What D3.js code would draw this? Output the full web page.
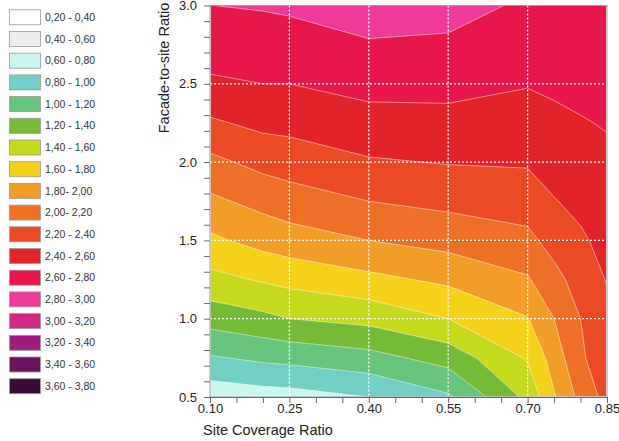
<!DOCTYPE html>
<html>
<head>
<meta charset="utf-8">
<script src="https://cdn.jsdelivr.net/npm/d3@7"></script>
<style>
  body { margin: 0; background: #fff; }
  svg { display: block; font-family: "Liberation Sans", Arial, sans-serif; }
</style>
</head>
<body>
<script>
// Grid columns (site coverage) and rows (facade-to-site)
const coverage = [0.10, 0.20, 0.25, 0.40, 0.55, 0.70, 0.75, 0.80, 0.85];
const facade = [0.50, 0.75, 1.00, 1.25, 1.50, 1.75, 2.00, 2.25, 2.50, 2.75, 3.00];

// values, one array per row (bottom to top)
const fsr050 = [0.67, 0.71, 0.72, 0.80, 0.97, 1.45, 1.78, 2.06, 2.27];
const fsr075 = [0.98, 1.04, 1.06, 1.13, 1.28, 1.62, 1.89, 2.17, 2.32];
const fsr100 = [1.28, 1.35, 1.40, 1.46, 1.60, 1.79, 2.00, 2.20, 2.36];
const fsr125 = [1.54, 1.62, 1.66, 1.75, 1.84, 1.98, 2.14, 2.28, 2.41];
const fsr150 = [1.76, 1.87, 1.91, 2.00, 2.07, 2.15, 2.27, 2.37, 2.46];
const fsr175 = [1.96, 2.06, 2.11, 2.20, 2.25, 2.29, 2.39, 2.45, 2.51];
const fsr200 = [2.15, 2.26, 2.29, 2.38, 2.41, 2.42, 2.48, 2.52, 2.57];
const fsr225 = [2.37, 2.45, 2.46, 2.53, 2.54, 2.52, 2.56, 2.59, 2.61];
const fsr250 = [2.57, 2.60, 2.60, 2.66, 2.66, 2.61, 2.63, 2.64, 2.64];
const fsr275 = [2.69, 2.71, 2.72, 2.78, 2.77, 2.69, 2.69, 2.68, 2.67];
const fsr300 = [2.799, 2.815, 2.83, 2.91, 2.87, 2.77, 2.74, 2.72, 2.70];
const rows = [fsr050, fsr075, fsr100, fsr125, fsr150, fsr175, fsr200, fsr225, fsr250, fsr275, fsr300];

// contour classes
const levels = [0.2, 0.4, 0.6, 0.8, 1.0, 1.2, 1.4, 1.6, 1.8, 2.0, 2.2, 2.4, 2.6, 2.8, 3.0, 3.2, 3.4, 3.6];
const bandLabels = ["0,20 - 0,40", "0,40 - 0,60", "0,60 - 0,80", "0,80 - 1,00", "1,00 - 1,20",
  "1,20 - 1,40", "1,40 - 1,60", "1,60 - 1,80", "1,80- 2,00", "2,00- 2,20", "2,20 - 2,40",
  "2,40 - 2,60", "2,60 - 2,80", "2,80 - 3,00", "3,00 - 3,20", "3,20 - 3,40", "3,40 - 3,60", "3,60 - 3,80"];
const bandColors = ["#ffffff", "#eeeeee", "#cbf5ef", "#72cfc3", "#66c47c", "#76bb38", "#c5d91d",
  "#f5d21a", "#f39d29", "#ee7026", "#ea4b25", "#e3232a", "#e8174b", "#ee3a98", "#d02a86",
  "#a01d7e", "#6a145d", "#3b0a34"];

// ticks
const xTicks = [0.10, 0.25, 0.40, 0.55, 0.70, 0.85];
const xMinor = [0.10, 0.15, 0.20, 0.25, 0.30, 0.35, 0.40, 0.45, 0.50, 0.55, 0.60, 0.65, 0.70, 0.75, 0.80, 0.85];
const yTicks = [0.5, 1.0, 1.5, 2.0, 2.5, 3.0];
const yMinor = [0.5, 0.6, 0.7, 0.8, 0.9, 1.0, 1.1, 1.2, 1.3, 1.4, 1.5, 1.6, 1.7, 1.8, 1.9, 2.0,
  2.1, 2.2, 2.3, 2.4, 2.5, 2.6, 2.7, 2.8, 2.9, 3.0];

const w = 619;
const h = 441;
const pLeft = 210, pRight = 607, pTop = 5.5, pBottom = 397;

const svg = d3.select("body")
  .append("svg")
  .attr("width", w)
  .attr("height", h);

const xScale = d3.scaleLinear().domain([0.10, 0.85]).range([pLeft, pRight]);
const yScale = d3.scaleLinear().domain([0.5, 3.0]).range([pBottom, pTop]);

// contour grid coords (samples at cell centres) -> pixels
const gx = d3.scaleLinear()
  .domain(coverage.map((d, i) => i + 0.5))
  .range(coverage.map(d => xScale(d)))
  .clamp(true);
const gy = d3.scaleLinear()
  .domain(facade.map((d, j) => j + 0.5))
  .range(facade.map(d => yScale(d)))
  .clamp(true);

const contours = d3.contours()
  .size([coverage.length, facade.length])
  .thresholds(levels)(rows.flat());

const path = d3.geoPath(d3.geoTransform({
  point: function(px, py) { this.stream.point(gx(px), gy(py)); }
}));

svg.append("clipPath")
  .attr("id", "plotclip")
  .append("rect")
  .attr("x", pLeft)
  .attr("y", pTop)
  .attr("width", pRight - pLeft)
  .attr("height", pBottom - pTop);

const plot = svg.append("g").attr("clip-path", "url(#plotclip)");

plot.selectAll("path.band")
  .data(contours)
  .enter()
  .append("path")
  .attr("class", "band")
  .attr("d", path)
  .attr("fill", d => bandColors[levels.indexOf(d.value)]);

plot.selectAll("path.iso")
  .data(contours.slice(1))
  .enter()
  .append("path")
  .attr("class", "iso")
  .attr("d", path)
  .attr("fill", "none")
  .attr("stroke", "#ffffff")
  .attr("stroke-opacity", 0.6)
  .attr("stroke-width", 0.8);

// dotted grid
plot.selectAll("line.vgrid")
  .data(xTicks.slice(1, -1))
  .enter()
  .append("line")
  .attr("x1", d => xScale(d))
  .attr("x2", d => xScale(d))
  .attr("y1", pTop)
  .attr("y2", pBottom)
  .attr("stroke", "#ffffff")
  .attr("stroke-width", 1.3)
  .attr("stroke-dasharray", "2,2");

plot.selectAll("line.hgrid")
  .data(yTicks.slice(1, -1))
  .enter()
  .append("line")
  .attr("x1", pLeft)
  .attr("x2", pRight)
  .attr("y1", d => yScale(d))
  .attr("y2", d => yScale(d))
  .attr("stroke", "#ffffff")
  .attr("stroke-width", 1.3)
  .attr("stroke-dasharray", "2,2");

svg.append("rect")
  .attr("x", pLeft)
  .attr("y", pTop)
  .attr("width", pRight - pLeft)
  .attr("height", pBottom - pTop)
  .attr("fill", "none")
  .attr("stroke", "#888")
  .attr("stroke-width", 0.8);

// axes
const styleAxis = g => {
  g.select(".domain").attr("stroke", "#666");
  g.selectAll(".tick line").attr("stroke", "#666");
  g.selectAll(".tick text").attr("fill", "#222").attr("font-size", 13);
  g.attr("font-family", null);
};

svg.append("g")
  .attr("transform", "translate(0," + pBottom + ")")
  .call(d3.axisBottom(xScale).tickValues(xMinor).tickSize(6).tickFormat(""))
  .call(styleAxis);
svg.append("g")
  .attr("transform", "translate(0," + pBottom + ")")
  .call(d3.axisBottom(xScale).tickValues(xTicks).tickSize(0).tickPadding(7).tickFormat(d3.format(".2f")))
  .call(styleAxis)
  .call(g => g.select(".domain").remove());

svg.append("g")
  .attr("transform", "translate(" + pLeft + ",0)")
  .call(d3.axisLeft(yScale).tickValues(yMinor).tickSize(6).tickFormat(""))
  .call(styleAxis)
  .call(g => g.select(".domain").remove());
svg.append("g")
  .attr("transform", "translate(" + pLeft + ",0)")
  .call(d3.axisLeft(yScale).tickValues(yTicks).tickSize(0).tickPadding(13).tickFormat(d3.format(".1f")))
  .call(styleAxis)
  .call(g => g.select(".domain").remove());

svg.append("text")
  .attr("x", 203)
  .attr("y", 435)
  .attr("font-size", 14.5)
  .attr("fill", "#222")
  .text("Site Coverage Ratio");

svg.append("text")
  .attr("transform", "translate(169,68) rotate(-90)")
  .attr("text-anchor", "middle")
  .attr("font-size", 14.5)
  .attr("fill", "#222")
  .text("Facade-to-site Ratio");

// legend
const legend = svg.append("g");
const rowY = i => 17.3 + i * 21.7;

legend.selectAll("rect")
  .data(bandLabels)
  .enter()
  .append("rect")
  .attr("x", 9.5)
  .attr("y", (d, i) => rowY(i) - 7.5)
  .attr("width", 31)
  .attr("height", 15)
  .attr("fill", (d, i) => bandColors[i])
  .attr("stroke", "#999")
  .attr("stroke-width", 0.8);

legend.selectAll("text")
  .data(bandLabels)
  .enter()
  .append("text")
  .attr("x", 45)
  .attr("y", (d, i) => rowY(i))
  .attr("dy", "0.35em")
  .attr("font-size", 10.5)
  .attr("fill", "#333")
  .text(d => d);
</script>
</body>
</html>
